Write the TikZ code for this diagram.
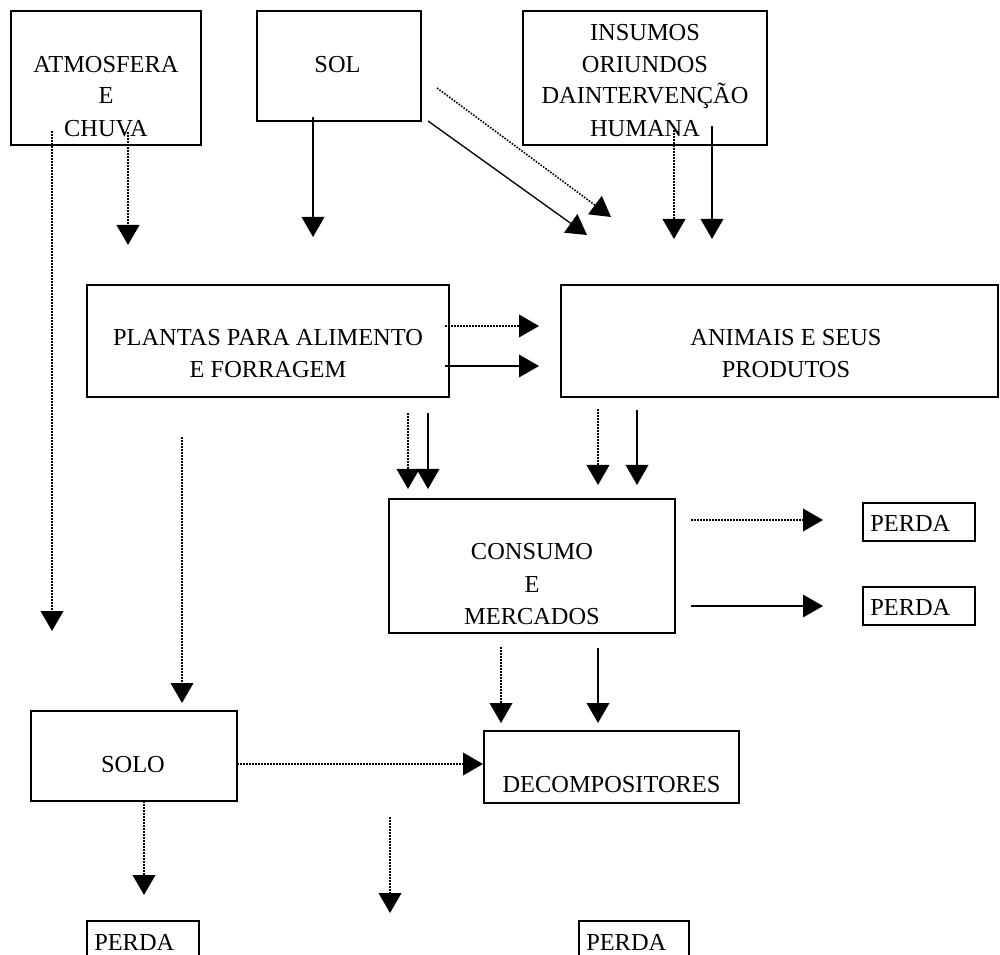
\documentclass[tikz,border=0pt]{standalone}
\usepackage{fontspec}
\setmainfont{Liberation Serif}
\usetikzlibrary{arrows.meta}
\newcommand\boxnode[5]{%
  \node[box, minimum width={(#4-#2)*0.75pt}, minimum height={(#5-#3)*0.75pt}] (#1) at ({(#2+#4)/2},{(#3+#5)/2}) {};}
\tikzset{
  box/.style={draw, line width=1.3pt, rectangle, inner sep=0pt},
  txt/.style={font=\fontsize{18.3}{24}\selectfont, inner sep=0pt, anchor=base},
  ltxt/.style={txt, anchor=base west},
  sarr/.style={line width=1pt, -{Triangle[width=17pt,length=15pt]}},
  darr/.style={sarr, line width=1.2pt, dash pattern=on 1.2pt off 1.05pt}
}
\begin{document}
\begin{tikzpicture}[x=0.75pt,y=-0.75pt]
\useasboundingbox (0,0) rectangle (1000,955);
\fill[white] (0,0) rectangle (1000,955);
\clip (0,0) rectangle (1000,955);
% boxes
\boxnode{atm}{11}{11}{201}{145}
\boxnode{sol}{257}{11}{421}{121}
\boxnode{ins}{523}{11}{767}{145}
\boxnode{pla}{87}{285}{449}{397}
\boxnode{ani}{561}{285}{998}{397}
\boxnode{con}{389}{499}{675}{633}
\boxnode{pA}{863}{503}{975}{541}
\boxnode{pB}{863}{587}{975}{625}
\boxnode{solo}{31}{711}{237}{801}
\boxnode{dec}{484}{731}{739}{803}
\boxnode{pC}{87}{921}{199}{985}
\boxnode{pD}{579}{921}{689}{985}
% texts
\node[txt] (t1) at (106,73) {ATMOSFERA};
\node[txt] (t2) at (106,104) {E};
\node[txt] (t3) at (106,137) {CHUVA};
\node[txt] (t4) at (337.5,73) {SOL};
\node[txt] (t5) at (645,41) {INSUMOS};
\node[txt] (t6) at (645,73) {ORIUNDOS};
\node[txt] (t7) at (645,104) {DAINTERVENÇÃO};
\node[txt] (t8) at (645,137) {HUMANA};
\node[txt] (t9) at (268,346) {PLANTAS PARA ALIMENTO};
\node[txt] (t10) at (268,378) {E FORRAGEM};
\node[txt] (t11) at (786,346) {ANIMAIS E SEUS};
\node[txt] (t12) at (786,378) {PRODUTOS};
\node[txt] (t13) at (532,560) {CONSUMO};
\node[txt] (t14) at (532,592) {E};
\node[txt] (t15) at (532,624) {MERCADOS};
\node[txt] (t16) at (133,772) {SOLO};
\node[txt] (t17) at (611.5,792) {DECOMPOSITORES};
\node[ltxt] (t18) at (870,532) {PERDA};
\node[ltxt] (t19) at (870,615) {PERDA};
\node[ltxt] (t20) at (94,950) {PERDA};
\node[ltxt] (t21) at (586,950) {PERDA};
% connector end points
\coordinate (a1s) at (52,131);   \coordinate (a1e) at (52,631);
\coordinate (a2s) at (128,132);  \coordinate (a2e) at (128,245);
\coordinate (a3s) at (313,117);  \coordinate (a3e) at (313,237);
\coordinate (a4s) at (428,121);  \coordinate (a4e) at (587,235);
\coordinate (a5s) at (437,88);   \coordinate (a5e) at (611,217);
\coordinate (a6s) at (674,130);  \coordinate (a6e) at (674,239);
\coordinate (a7s) at (712,126);  \coordinate (a7e) at (712,239);
\coordinate (a8s) at (445,326);  \coordinate (a8e) at (539,326);
\coordinate (a9s) at (445,366);  \coordinate (a9e) at (539,366);
\coordinate (a10s) at (408,413); \coordinate (a10e) at (408,489);
\coordinate (a11s) at (428,413); \coordinate (a11e) at (428,489);
\coordinate (a12s) at (598,409); \coordinate (a12e) at (598,485);
\coordinate (a13s) at (637,410); \coordinate (a13e) at (637,485);
\coordinate (a14s) at (182,437); \coordinate (a14e) at (182,703);
\coordinate (a15s) at (691,520); \coordinate (a15e) at (823,520);
\coordinate (a16s) at (691,606); \coordinate (a16e) at (823,606);
\coordinate (a17s) at (501,647); \coordinate (a17e) at (501,723);
\coordinate (a18s) at (598,648); \coordinate (a18e) at (598,723);
\coordinate (a19s) at (237,764); \coordinate (a19e) at (483,764);
\coordinate (a20s) at (144,801); \coordinate (a20e) at (144,895);
\coordinate (a21s) at (390,817); \coordinate (a21e) at (390,913);
% connectors
\draw[darr] (a1s) -- (a1e);
\draw[darr] (a2s) -- (a2e);
\draw[sarr] (a3s) -- (a3e);
\draw[sarr] (a4s) -- (a4e);
\draw[darr] (a5s) -- (a5e);
\draw[darr] (a6s) -- (a6e);
\draw[sarr] (a7s) -- (a7e);
\draw[darr] (a8s) -- (a8e);
\draw[sarr] (a9s) -- (a9e);
\draw[darr] (a10s) -- (a10e);
\draw[sarr] (a11s) -- (a11e);
\draw[darr] (a12s) -- (a12e);
\draw[sarr] (a13s) -- (a13e);
\draw[darr] (a14s) -- (a14e);
\draw[darr] (a15s) -- (a15e);
\draw[sarr] (a16s) -- (a16e);
\draw[darr] (a17s) -- (a17e);
\draw[sarr] (a18s) -- (a18e);
\draw[darr] (a19s) -- (a19e);
\draw[darr] (a20s) -- (a20e);
\draw[darr] (a21s) -- (a21e);
\end{tikzpicture}
\end{document}
